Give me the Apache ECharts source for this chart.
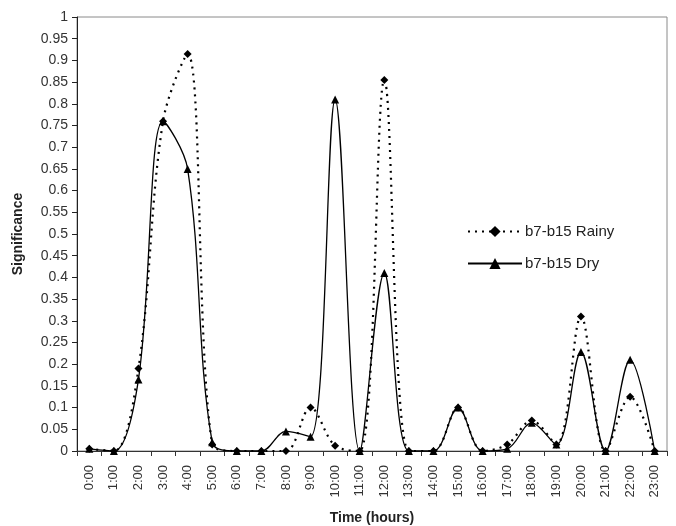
<!DOCTYPE html>
<html>
<head>
<meta charset="utf-8">
<style>
  html, body { margin: 0; padding: 0; background: #fff; }
  #chart { width: 676px; height: 526px; }
</style>
<script src="https://cdn.jsdelivr.net/npm/echarts@6/dist/echarts.min.js"></script>
</head>
<body>
<div id="chart"></div>
<script>
// Hourly significance values for the b7-b15 pair, rainy vs dry season
const hours = ['0:00','1:00','2:00','3:00','4:00','5:00','6:00','7:00','8:00','9:00','10:00','11:00',
               '12:00','13:00','14:00','15:00','16:00','17:00','18:00','19:00','20:00','21:00','22:00','23:00'];
const rainy = [0.005, 0, 0.19, 0.76, 0.915, 0.015, 0, 0, 0, 0.10, 0.012, 0,
               0.855, 0, 0, 0.10, 0, 0.015, 0.07, 0.015, 0.31, 0, 0.125, 0];
const dry   = [0.005, 0, 0.165, 0.76, 0.65, 0.02, 0, 0, 0.045, 0.033, 0.81, 0,
               0.41, 0, 0, 0.10, 0, 0.005, 0.065, 0.015, 0.228, 0, 0.21, 0];
const rainyName = 'b7-b15 Rainy';
const dryName = 'b7-b15 Dry';

const chart = echarts.init(document.getElementById('chart'), null, { renderer: 'canvas' });
const font = 'Liberation Sans, Arial, sans-serif';

chart.setOption({
  animation: false,
  backgroundColor: '#fff',
  textStyle: { fontFamily: font },
  grid: {
    left: 77, right: 9, top: 17, bottom: 75,
    show: true, borderColor: '#8a8a8a', borderWidth: 1,
    containLabel: false,
    outerBoundsMode: 'none'
  },
  legend: {
    orient: 'vertical',
    left: 462, top: 219,
    itemWidth: 54, itemHeight: 14, itemGap: 17,
    textStyle: { fontSize: 15, color: '#222', fontFamily: font, padding: [0, 0, 0, -2] },
    data: [rainyName, dryName]
  },
  xAxis: {
    type: 'category',
    data: hours,
    boundaryGap: true,
    name: 'Time (hours)',
    nameLocation: 'middle',
    nameGap: 60,
    nameTextStyle: { fontSize: 14, fontWeight: 'bold', color: '#222', fontFamily: font },
    axisLine: { lineStyle: { color: '#333', width: 1 } },
    axisTick: { show: true, interval: 0, alignWithLabel: false, length: 5, lineStyle: { color: '#333' } },
    axisLabel: { interval: 0, rotate: 90, fontSize: 13, color: '#333', margin: 14, fontFamily: font },
    splitLine: { show: false }
  },
  yAxis: {
    type: 'value',
    min: 0, max: 1, interval: 0.05,
    name: 'Significance',
    nameLocation: 'middle',
    nameGap: 52,
    nameTextStyle: { fontSize: 14, fontWeight: 'bold', color: '#222', fontFamily: font },
    axisLine: { show: true, lineStyle: { color: '#222', width: 1 } },
    axisTick: { show: true, inside: false, length: 5, lineStyle: { color: '#222' } },
    axisLabel: {
      fontSize: 14, color: '#333', margin: 9, fontFamily: font,
      formatter: v => String(Math.round(v * 100) / 100)
    },
    splitLine: { show: false }
  },
  series: [
    {
      name: rainyName,
      type: 'line',
      data: rainy,
      smooth: 0.35,
      clip: false,
      symbol: 'diamond',
      symbolSize: 8,
      itemStyle: { color: '#000' },
      lineStyle: { color: '#000', width: 2.2, type: [2, 5] },
      z: 3
    },
    {
      name: dryName,
      type: 'line',
      data: dry,
      smooth: 0.35,
      clip: false,
      symbol: 'triangle',
      symbolSize: 8,
      itemStyle: { color: '#000' },
      lineStyle: { color: '#000', width: 1.3, type: 'solid' },
      z: 4
    }
  ]
});
</script>
</body>
</html>
